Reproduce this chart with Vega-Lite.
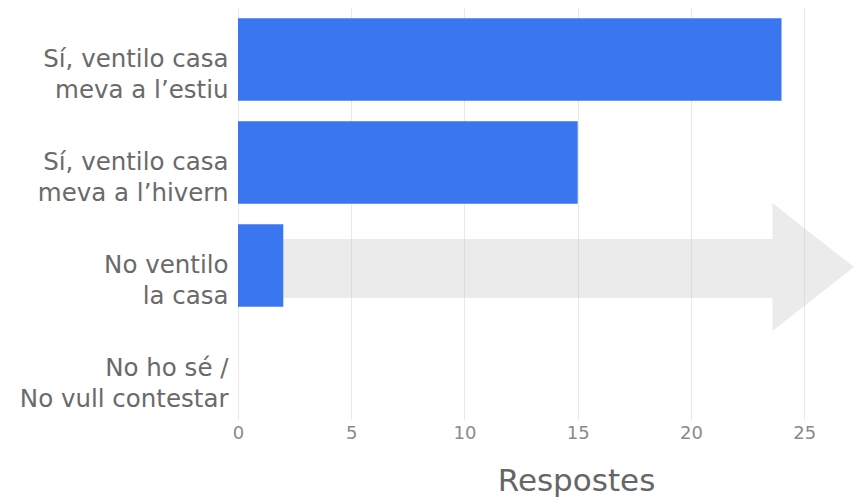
{
  "$schema": "https://vega.github.io/schema/vega-lite/v6.json",
  "width": 616,
  "height": 412,
  "autosize": "none",
  "padding": {"left": 238, "top": 8, "right": 0, "bottom": 80},
  "background": "white",
  "config": {
    "view": {"stroke": null},
    "font": "DejaVu Sans"
  },
  "datasets": {
    "responses": [
      {"resposta": "Sí, ventilo casa\nmeva a l’estiu", "n": 24},
      {"resposta": "Sí, ventilo casa\nmeva a l’hivern", "n": 15},
      {"resposta": "No ventilo\nla casa", "n": 2},
      {"resposta": "No ho sé / \nNo vull contestar", "n": 0}
    ],
    "arrow": [
      {"x": 0, "top": 1.757, "bottom": 1.184},
      {"x": 23.6, "top": 1.757, "bottom": 1.184},
      {"x": 23.6, "top": 2.107, "bottom": 0.864},
      {"x": 27.2, "top": 1.485, "bottom": 1.485}
    ]
  },
  "layer": [
    {
      "data": {"name": "arrow"},
      "mark": {"type": "area", "fill": "#cccccc", "fillOpacity": 0.4, "interpolate": "linear"},
      "encoding": {
        "x": {"field": "x", "type": "quantitative", "scale": {"domain": [0, 27.2], "nice": false, "zero": true},
          "axis": {
            "grid": true,
            "gridColor": "#e8e8e8",
            "ticks": false,
            "domain": false,
            "labelFontSize": 18,
            "labelColor": "#8a8a8a",
            "labelPadding": 4,
            "labelFlush": false,
            "values": [0, 5, 10, 15, 20, 25],
            "title": "Respostes",
            "titleFontSize": 31,
            "titleFontWeight": "normal",
            "titleColor": "#666666",
            "titleX": 338,
            "titleY": 70,
            "titleAlign": "center",
            "titleBaseline": "alphabetic"
          }},
        "y": {"field": "top", "type": "quantitative", "scale": {"domain": [0, 4], "nice": false}, "axis": null},
        "y2": {"field": "bottom"}
      }
    },
    {
      "data": {"name": "responses"},
      "mark": {"type": "bar", "color": "#3a76f0"},
      "encoding": {
        "y": {
          "field": "resposta",
          "type": "nominal",
          "sort": null,
          "scale": {"paddingInner": 0.2, "paddingOuter": 0.1},
          "axis": {
            "title": null,
            "ticks": false,
            "domain": false,
            "grid": false,
            "labelFontSize": 24.5,
            "labelColor": "#6a6a6a",
            "labelLineHeight": 31,
            "labelPadding": 10,
            "labelLimit": 300,
            "labelExpr": "split(datum.label, '\\n')"
          }
        },
        "x": {"field": "n", "type": "quantitative", "scale": {"domain": [0, 27.2], "nice": false}}
      }
    }
  ],
  "resolve": {"scale": {"y": "independent"}, "axis": {"y": "independent"}}
}
